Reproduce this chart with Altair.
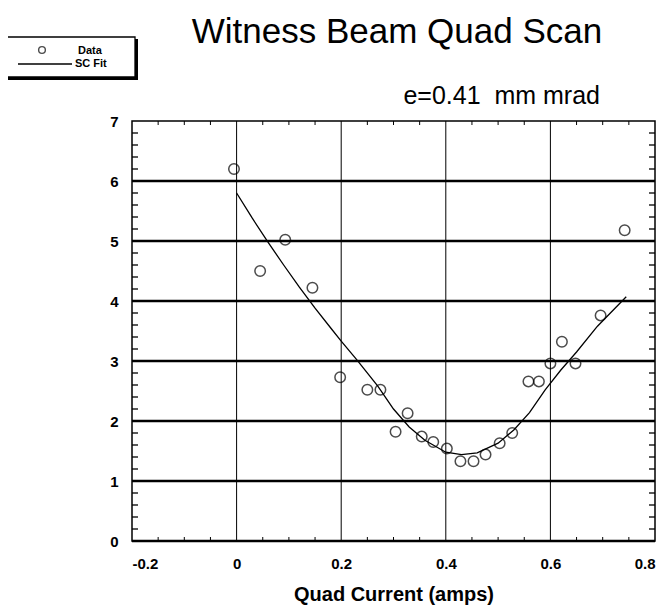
import altair as alt
import pandas as pd

# Measured data points (Data)
data_x = [-0.005, 0.045, 0.093, 0.145, 0.198, 0.25, 0.275, 0.304, 0.327, 0.354,
          0.376, 0.402, 0.428, 0.453, 0.476, 0.503, 0.527, 0.558, 0.578, 0.6,
          0.622, 0.648, 0.696, 0.742]
data_y = [6.2, 4.5, 5.02, 4.22, 2.73, 2.52, 2.52, 1.82, 2.13, 1.74,
          1.65, 1.54, 1.33, 1.33, 1.44, 1.63, 1.8, 2.66, 2.66, 2.96,
          3.32, 2.96, 3.76, 5.18]

# SC Fit curve
fit_x = [0.0, 0.03, 0.06, 0.09, 0.12, 0.15, 0.18, 0.2, 0.23, 0.27, 0.3, 0.33,
         0.36, 0.4, 0.43, 0.46, 0.5, 0.53, 0.56, 0.59, 0.62, 0.65, 0.69, 0.745]
fit_y = [5.8, 5.38, 4.98, 4.6, 4.23, 3.88, 3.55, 3.33, 3.02, 2.58, 2.2, 1.9,
         1.68, 1.48, 1.44, 1.47, 1.63, 1.85, 2.14, 2.52, 2.85, 3.15, 3.58, 4.07]

x_ticks = [-0.2, 0, 0.2, 0.4, 0.6, 0.8]
x_grid = [0, 0.2, 0.4, 0.6]
y_ticks = [0, 1, 2, 3, 4, 5, 6, 7]
y_grid = [1, 2, 3, 4, 5, 6]
y_minor = [round(i * 0.2, 1) for i in range(36) if i % 5]
x_minor = [round(-0.2 + i * 0.05, 2) for i in range(21) if i % 4]

W, H = 523, 420
FONT = "Liberation Sans"

points = pd.DataFrame({"x": data_x, "y": data_y})
fit = pd.DataFrame({"x": fit_x, "y": fit_y})
one = pd.DataFrame({"a": [0]})

xs = alt.Scale(domain=[-0.2, 0.8], nice=False, zero=False)
ys = alt.Scale(domain=[0, 7], nice=False, zero=False)

xaxis = alt.Axis(values=x_ticks, grid=False, ticks=False, domain=False,
                 labelFont=FONT, labelFontWeight="bold", labelFontSize=15,
                 labelColor="black", labelPadding=15,
                 labelExpr="datum.value == 0 ? '0' : replace(format(datum.value, '.1f'), '\u2212', '-')",
                 title="Quad Current (amps)", titleFont=FONT, titleFontSize=20,
                 titleFontWeight="bold", titleColor="black", titlePadding=13)
yaxis = alt.Axis(values=y_ticks, grid=False, ticks=False, domain=False,
                 labelFont=FONT, labelFontWeight="bold", labelFontSize=15,
                 labelColor="black", labelPadding=14, format="d", title=None)

# axes carrier (invisible)
axes = alt.Chart(points).mark_point(opacity=0).encode(
    x=alt.X("x:Q", scale=xs, axis=xaxis),
    y=alt.Y("y:Q", scale=ys, axis=yaxis),
)

vgrid = alt.Chart(pd.DataFrame({"g": x_grid})).mark_rule(color="black", strokeWidth=1).encode(
    x=alt.X("g:Q", scale=xs)
)
hgrid = alt.Chart(pd.DataFrame({"g": y_grid})).mark_rule(color="black", strokeWidth=2.6).encode(
    y=alt.Y("g:Q", scale=ys)
)
bottom = alt.Chart(pd.DataFrame({"g": [0]})).mark_rule(color="black", strokeWidth=2.6).encode(
    y=alt.Y("g:Q", scale=ys)
)

ym = pd.DataFrame({"m": y_minor})
xm = pd.DataFrame({"m": x_minor})
lminor = alt.Chart(ym).mark_rule(color="black", strokeWidth=1.3).encode(
    y=alt.Y("m:Q", scale=ys), x=alt.value(0), x2=alt.value(6))
rminor = alt.Chart(ym).mark_rule(color="black", strokeWidth=1.3).encode(
    y=alt.Y("m:Q", scale=ys), x=alt.value(W - 6), x2=alt.value(W))
bminor = alt.Chart(xm).mark_rule(color="black", strokeWidth=1).encode(
    x=alt.X("m:Q", scale=xs), y=alt.value(H - 4), y2=alt.value(H))
tminor = alt.Chart(xm).mark_rule(color="black", strokeWidth=1).encode(
    x=alt.X("m:Q", scale=xs), y=alt.value(0), y2=alt.value(4))

line = alt.Chart(fit).mark_line(color="black", strokeWidth=1.3).encode(
    x=alt.X("x:Q", scale=xs), y=alt.Y("y:Q", scale=ys), order="x:Q")
pts = alt.Chart(points).mark_point(shape="circle", filled=False, color="black",
                                   size=110, strokeWidth=1.5).encode(
    x=alt.X("x:Q", scale=xs), y=alt.Y("y:Q", scale=ys))

title = alt.Chart(one).mark_text(font=FONT, fontSize=35, align="center",
                                 baseline="alphabetic", color="black").encode(
    x=alt.value(265), y=alt.value(-78), text=alt.value("Witness Beam Quad Scan"))
subtitle = alt.Chart(one).mark_text(font=FONT, fontSize=25, align="right",
                                    baseline="alphabetic", color="black").encode(
    x=alt.value(468), y=alt.value(-17), text=alt.value("e=0.41 \u00a0mm mrad"))

# legend box
shadow = alt.Chart(one).mark_rect(color="black").encode(
    x=alt.value(-125), x2=alt.value(6), y=alt.value(-82), y2=alt.value(-41))
box = alt.Chart(one).mark_rect(fill="white", stroke="black", strokeWidth=1.3).encode(
    x=alt.value(-127), x2=alt.value(3), y=alt.value(-84), y2=alt.value(-44))
lg_pt = alt.Chart(one).mark_point(shape="circle", filled=False, color="black",
                                  size=45, strokeWidth=1.4).encode(
    x=alt.value(-90), y=alt.value(-71))
lg_ln = alt.Chart(one).mark_rule(color="black", strokeWidth=1.4).encode(
    x=alt.value(-114), x2=alt.value(-60), y=alt.value(-57))
lg_t1 = alt.Chart(one).mark_text(font=FONT, fontSize=11, fontWeight="bold", align="left",
                                 baseline="middle", color="black").encode(
    x=alt.value(-54), y=alt.value(-70), text=alt.value("Data"))
lg_t2 = alt.Chart(one).mark_text(font=FONT, fontSize=11, fontWeight="bold", align="left",
                                 baseline="middle", color="black").encode(
    x=alt.value(-57), y=alt.value(-57), text=alt.value("SC Fit"))

chart = alt.layer(
    axes, vgrid, hgrid, bottom, lminor, rminor, bminor, tminor, line, pts,
    title, subtitle, shadow, box, lg_pt, lg_ln, lg_t1, lg_t2
).properties(
    width=W, height=H,
    autosize=alt.AutoSizeParams(type="none"),
    padding={"left": 124, "top": 113, "right": 4, "bottom": 64},
    background="white",
).configure_view(stroke="black", strokeWidth=1.5)

chart.save("out.html", embed_options={"renderer": "svg", "actions": False})
